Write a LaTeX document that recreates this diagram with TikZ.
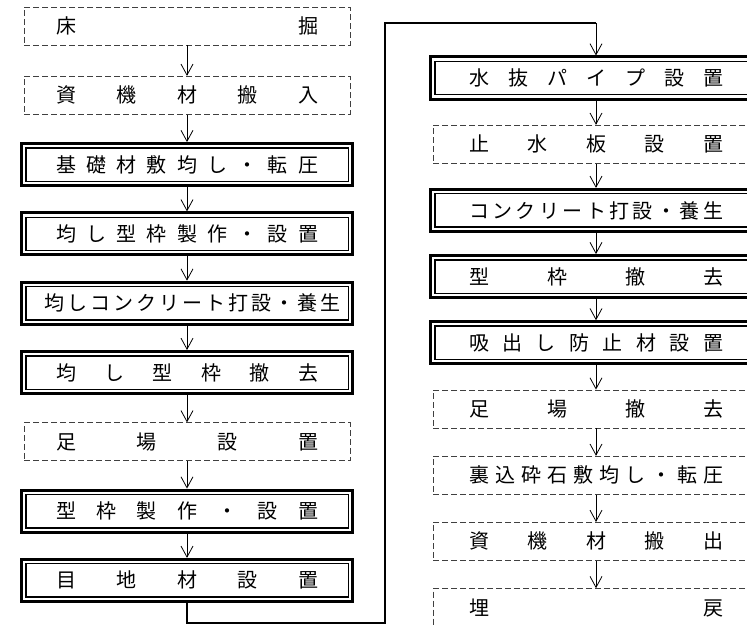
\documentclass[tikz,border=0pt]{standalone}
\usepackage{fontspec}
\newfontfamily\jpfont{Noto Sans CJK JP}
\usetikzlibrary{arrows.meta}
\definecolor{dashgray}{HTML}{404040}
\newcommand{\kintou}[2]{\makebox[#1][s]{#2}}

\begin{document}
\begin{tikzpicture}[x=1pt, y=-1pt,
    every node/.style={font=\jpfont\fontsize{20}{24}\selectfont, inner sep=0pt},
    dashbox/.style={draw=dashgray, dash pattern=on 6pt off 3pt, line width=0.8pt,
      minimum width=326pt, minimum height=38pt},
    dblbox/.style={draw, line width=3pt, minimum width=331pt, minimum height=42pt,
      path picture={\draw[line width=1.4pt]
        ([shift={(4.3pt,4.3pt)}]path picture bounding box.south west) rectangle
        ([shift={(-4.3pt,-4.3pt)}]path picture bounding box.north east);}},
    flecha/.style={-{Straight Barb[length=11pt,width=12pt]}, line width=0.8pt},
    retorno/.style={line width=1.8pt}]
  \useasboundingbox (0,0) rectangle (747,626);
  \clip (0,0) rectangle (747,626);

  % Columna izquierda
  \node[dashbox] (yukahori) at (187,26) {\kintou{262pt}{床 掘}};
  \node[dashbox] (hannyu) at (187,95.3) {\kintou{262pt}{資 機 材 搬 入}};
  \node[dblbox] (kiso) at (187,164.6) {\kintou{262pt}{基 礎 材 敷 均 し ・ 転 圧}};
  \node[dblbox] (narashiwaku) at (187,233.9) {\kintou{262pt}{均 し 型 枠 製 作 ・ 設 置}};
  \node[dblbox] (narashicon) at (187,303.2) {\kintou{285pt}{均 し コ ン ク リ ー ト 打 設 ・ 養 生}\hspace{6pt}};
  \node[dblbox] (narashitekkyo) at (187,372.5) {\kintou{262pt}{均 し 型 枠 撤 去}};
  \node[dashbox] (ashiba) at (187,441.8) {\kintou{262pt}{足 場 設 置}};
  \node[dblbox] (katawaku) at (187,511.1) {\kintou{262pt}{型 枠 製 作 ・ 設 置}};
  \node[dblbox] (meji) at (187,580.4) {\kintou{262pt}{目 地 材 設 置}};

  \draw[flecha] (yukahori) -- (hannyu);
  \draw[flecha] (hannyu) -- (kiso);
  \draw[flecha] (kiso) -- (narashiwaku);
  \draw[flecha] (narashiwaku) -- (narashicon);
  \draw[flecha] (narashicon) -- (narashitekkyo);
  \draw[flecha] (narashitekkyo) -- (ashiba);
  \draw[flecha] (ashiba) -- (katawaku);
  \draw[flecha] (katawaku) -- (meji);

  % Columna derecha
  \node[dblbox] (mizunuki) at (596,78) {\kintou{254pt}{水 抜 パ イ プ 設 置}};
  \node[dashbox] (shisui) at (596,144.2) {\kintou{254pt}{止 水 板 設 置}};
  \node[dblbox] (concrete) at (596,210.4) {\kintou{254pt}{コ ン ク リ ー ト 打 設 ・ 養 生}};
  \node[dblbox] (wakutekkyo) at (596,276.6) {\kintou{254pt}{型 枠 撤 去}};
  \node[dblbox] (suidashi) at (596,342.8) {\kintou{254pt}{吸 出 し 防 止 材 設 置}};
  \node[dashbox] (ashibatekkyo) at (596,409) {\kintou{254pt}{足 場 撤 去}};
  \node[dashbox] (uragome) at (596,475.2) {\kintou{254pt}{裏 込 砕 石 敷 均 し ・ 転 圧}};
  \node[dashbox] (hanshutsu) at (596,541.4) {\kintou{254pt}{資 機 材 搬 出}};
  \node[dashbox] (umemodoshi) at (596,607.6) {\kintou{254pt}{埋 戻}};

  \draw[flecha] (mizunuki) -- (shisui);
  \draw[flecha] (shisui) -- (concrete);
  \draw[flecha] (concrete) -- (wakutekkyo);
  \draw[flecha] (wakutekkyo) -- (suidashi);
  \draw[flecha] (suidashi) -- (ashibatekkyo);
  \draw[flecha] (ashibatekkyo) -- (uragome);
  \draw[flecha] (uragome) -- (hanshutsu);
  \draw[flecha] (hanshutsu) -- (umemodoshi);

  % Retorno
  \coordinate (abajo) at (385,623);
  \coordinate (arriba) at (385,23);
  \coordinate (entrada) at (596,23);
  \draw[retorno] (meji.south) |- (abajo) -- (arriba) -- (entrada);
  \draw[flecha] (entrada) -- (mizunuki);
\end{tikzpicture}
\end{document}
